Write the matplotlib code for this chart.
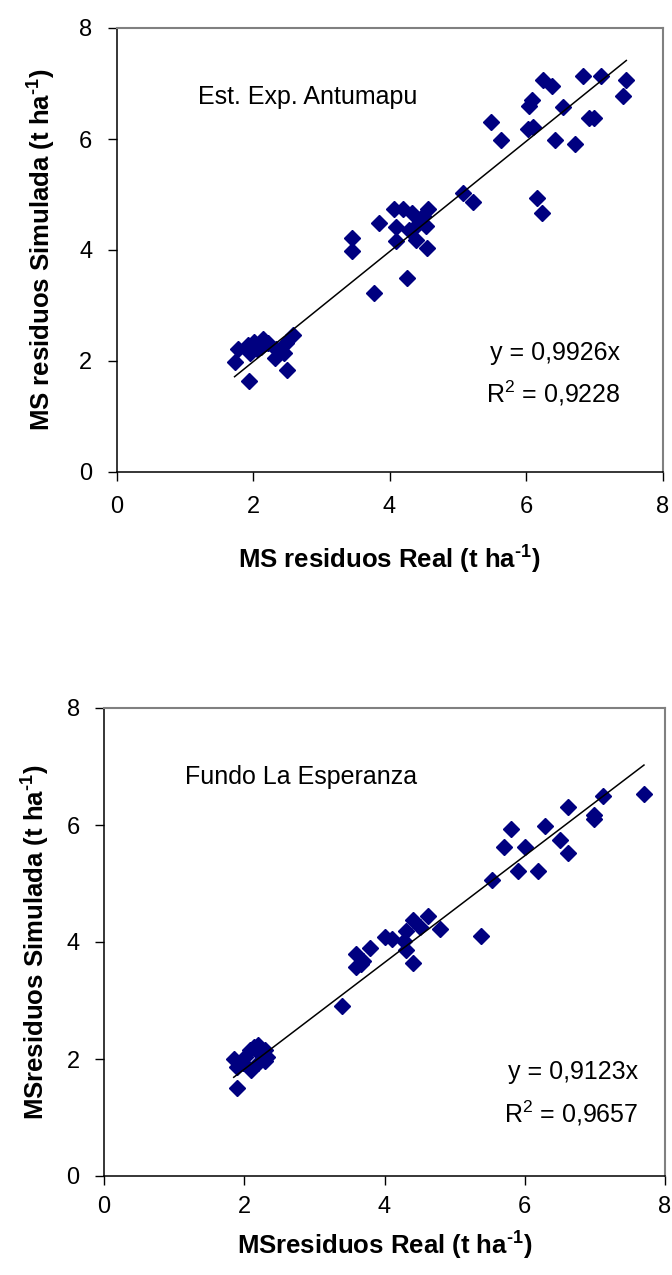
import numpy as np
import matplotlib
matplotlib.use('Agg')
import matplotlib.pyplot as plt

plt.rcParams['font.family'] = ['Liberation Sans', 'DejaVu Sans']
plt.rcParams['mathtext.fontset'] = 'custom'
plt.rcParams['mathtext.rm'] = 'Liberation Sans'
plt.rcParams['mathtext.bf'] = 'Liberation Sans:bold'

# Est. Exp. Antumapu
real_a = [6.25, 6.38, 6.84, 7.10, 7.47, 7.42, 6.09, 6.05, 6.54, 5.48, 5.63, 6.03, 6.10,
          6.92, 7.00, 6.43, 6.72, 6.16, 6.24, 5.07, 5.23,
          4.07, 4.20, 4.33, 4.57, 4.49, 3.85, 4.09, 4.28, 4.39, 4.54, 4.10, 4.39, 4.55,
          3.45, 3.45, 4.26, 3.77,
          1.73, 1.78, 1.94, 2.50, 2.58, 2.48, 2.33, 2.32, 2.45, 1.93, 2.01, 2.14, 2.22,
          1.95, 2.06, 2.11, 2.19, 1.99]
sim_a = [7.07, 6.96, 7.13, 7.13, 7.07, 6.77, 6.71, 6.60, 6.57, 6.30, 5.98, 6.18, 6.21,
         6.37, 6.37, 5.98, 5.91, 4.93, 4.67, 5.03, 4.87,
         4.73, 4.73, 4.67, 4.74, 4.61, 4.48, 4.41, 4.36, 4.43, 4.43, 4.16, 4.18, 4.04,
         4.22, 3.99, 3.50, 3.23,
         1.98, 2.21, 1.64, 1.83, 2.46, 2.32, 2.21, 2.05, 2.15, 2.29, 2.35, 2.39, 2.33,
         2.14, 2.21, 2.26, 2.32, 2.20]
slope_a = 0.9926
r2_a = '0,9228'

# Fundo La Esperanza
real_b = [7.70, 7.11, 6.61, 6.99, 6.99, 6.29, 5.80, 6.50, 5.70, 6.01, 6.61, 5.90, 6.19,
          5.54, 5.37, 4.62, 4.40, 4.51, 4.79, 4.30, 4.01, 4.10, 4.28, 4.30, 4.40, 3.80,
          3.60, 3.70, 3.60, 3.66, 3.39,
          1.89, 1.85, 1.89, 2.01, 2.08, 2.20, 2.29, 2.32, 2.30, 2.09, 2.19, 1.98, 2.24, 2.14]
sim_b = [6.53, 6.49, 6.31, 6.17, 6.11, 5.99, 5.93, 5.75, 5.62, 5.63, 5.52, 5.22, 5.22,
         5.06, 4.10, 4.45, 4.38, 4.25, 4.22, 4.18, 4.08, 4.05, 4.02, 3.87, 3.64, 3.89,
         3.79, 3.67, 3.58, 3.63, 2.90,
         1.50, 2.00, 1.87, 2.04, 2.16, 2.24, 2.16, 2.04, 1.96, 1.81, 1.93, 1.93, 2.07, 2.21]
slope_b = 0.9123
r2_b = '0,9657'

ticks = [0, 2, 4, 6, 8]
unit = 't ha$^{\\mathbf{\u2010}\\mathbf{1}}$'


def panel(ax, x, y, slope, r2, site, site_pos, eq_pos, xlab, ylab):
    ax.plot(x, y, linestyle='none', marker='D', ms=8, color='#000080', mec='#000080')
    xs = np.array([min(x), max(x)])
    ax.plot(xs, slope * xs, color='black', lw=1.1)
    ax.set_xlim(0, 8)
    ax.set_ylim(0, 8)
    ax.set_xticks(ticks)
    ax.set_yticks(ticks)
    ax.tick_params(direction='out', length=6.5, width=1, labelsize=17, pad=11)
    for s in ['top', 'right']:
        ax.spines[s].set_color('#808080')
        ax.spines[s].set_linewidth(1.5)
    for s in ['left', 'bottom']:
        ax.spines[s].set_linewidth(1.1)
    ax.text(site_pos[0], site_pos[1], site, fontsize=18, va='baseline')
    ax.text(eq_pos[0], eq_pos[1], 'y = %sx' % str(slope).replace('.', ','),
            fontsize=18, ha='right', va='baseline')
    ax.text(eq_pos[0], eq_pos[2], r'R$^{2}$ = ' + r2, fontsize=18, ha='right', va='baseline')
    ax.set_xlabel(xlab, fontsize=18.5, fontweight='bold', labelpad=17)
    ax.set_ylabel(ylab, fontsize=18.5, fontweight='bold', labelpad=16)


fig = plt.figure(figsize=(6.72, 12.75), dpi=100)
ax1 = fig.add_axes([116.5 / 672, 1 - 472 / 1275, 546 / 672, 444 / 1275])
ax2 = fig.add_axes([104 / 672, 1 - 1176 / 1275, 561 / 672, 468 / 1275])

panel(ax1, real_a, sim_a, slope_a, r2_a, 'Est. Exp. Antumapu', (1.20, 6.63), (7.38, 2.01, 1.25),
      'MS residuos Real (' + unit + ')', 'MS residuos Simulada (' + unit + ')')
panel(ax2, real_b, sim_b, slope_b, r2_b, 'Fundo La Esperanza', (1.16, 6.70), (7.61, 1.65, 0.91),
      'MSresiduos Real (' + unit + ')', 'MSresiduos Simulada (' + unit + ')')
ax2.tick_params(axis='x', pad=8)
ax2.xaxis.labelpad = 7
ax2.yaxis.labelpad = 11

fig.savefig('out.png', dpi=100)
